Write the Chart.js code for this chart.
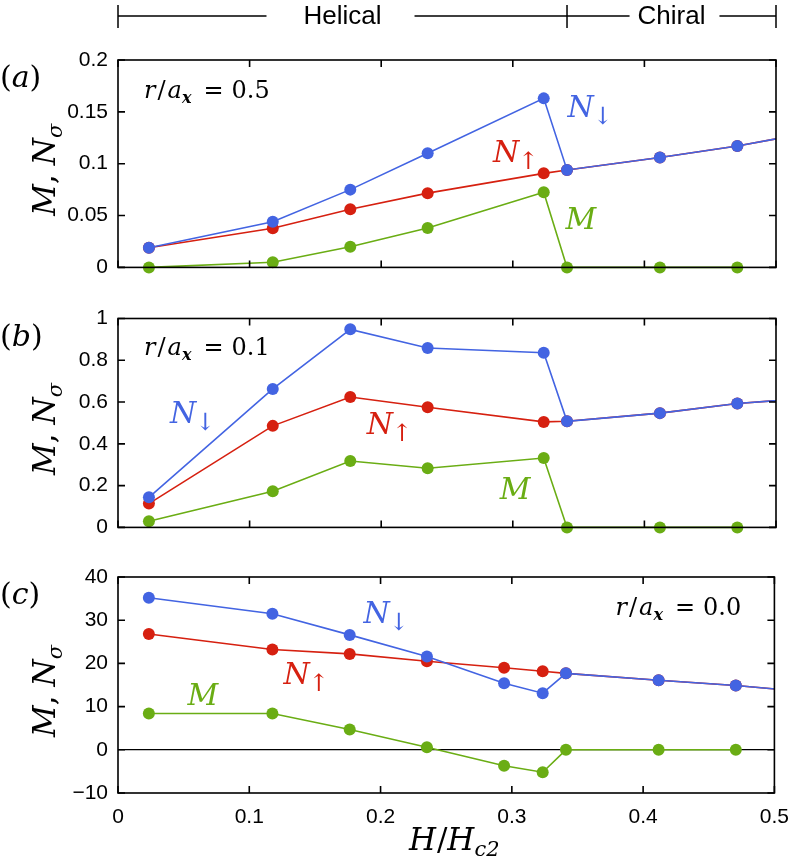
<!DOCTYPE html>
<html>
<head>
<meta charset="utf-8">
<script src="https://cdn.jsdelivr.net/npm/chart.js@4.4.1/dist/chart.umd.min.js"></script>
<style>
  body { margin: 0; background: #fff; }
  #wrap { position: relative; width: 793px; height: 858px; }
  canvas { position: absolute; left: 0; }
</style>
</head>
<body>
<div id="wrap">
  <canvas id="chartA" width="793" height="290" style="top:0px"></canvas>
  <canvas id="chartB" width="793" height="260" style="top:290px"></canvas>
  <canvas id="chartC" width="793" height="308" style="top:550px"></canvas>
</div>
<script>
// H/Hc2 positions of the computed points (last one lies past 0.5 and is clipped)
const xAB = [0.0235, 0.1176, 0.1765, 0.2353, 0.3235, 0.3412, 0.4118, 0.4706, 0.5294];
const xC  = [0.0235, 0.1176, 0.1765, 0.2353, 0.2941, 0.3235, 0.3412, 0.4118, 0.4706, 0.5294];

// (a) r/a_x = 0.5
const downA = [0.019, 0.044, 0.075, 0.110, 0.163, 0.094, 0.106, 0.117, 0.131];
const upA   = [0.019, 0.0377, 0.056, 0.0716, 0.0907, 0.094, 0.106, 0.117, 0.131];
const mA    = [0, 0.005, 0.020, 0.038, 0.0725, 0, 0, 0];

// (b) r/a_x = 0.1
const downB = [0.144, 0.663, 0.948, 0.859, 0.836, 0.508, 0.547, 0.593, 0.621];
const upB   = [0.114, 0.486, 0.624, 0.575, 0.505, 0.508, 0.547, 0.593, 0.621];
const mB    = [0.029, 0.173, 0.318, 0.283, 0.332, 0, 0, 0];

// (c) r/a_x = 0.0
const downC = [35.2, 31.5, 26.6, 21.6, 15.4, 13.1, 17.7, 16.1, 14.9, 13.3];
const upC   = [26.8, 23.2, 22.2, 20.5, 19.0, 18.2, 17.7, 16.1, 14.9, 13.3];
const mC    = [8.4, 8.4, 4.7, 0.6, -3.7, -5.2, 0, 0, 0];

const xTicks  = ['0', '0.1', '0.2', '0.3', '0.4', '0.5'];
const yTicksA = ['0', '0.05', '0.1', '0.15', '0.2'];
const yTicksB = ['0', '0.2', '0.4', '0.6', '0.8', '1'];
const yTicksC = ['\u221210', '0', '10', '20', '30', '40'];

const BLUE = '#4364e2';
const RED = '#d62010';
const GREEN = '#6aad14';

const SERIF = '"DejaVu Serif", "Liberation Serif", serif';
const SANS = '"Liberation Sans", Arial, sans-serif';
const it = s => `italic ${s}px ${SERIF}`;
const rm = s => `${s}px ${SERIF}`;

// draws a run of text pieces (used for sub/superscripts)
function rich(ctx, x, y, parts, color) {
  ctx.save();
  ctx.fillStyle = color;
  ctx.textBaseline = 'alphabetic';
  ctx.textAlign = 'left';
  for (const p of parts) {
    ctx.font = p.f;
    x += p.dx || 0;
    ctx.fillText(p.t, x, y + (p.dy || 0));
    x += ctx.measureText(p.t).width + (p.gap || 0);
  }
  ctx.restore();
}
function richWidth(ctx, parts) {
  let w = 0;
  ctx.save();
  for (const p of parts) { ctx.font = p.f; w += (p.dx || 0) + ctx.measureText(p.t).width + (p.gap || 0); }
  ctx.restore();
  return w;
}

const Ndown = [{ t: 'N', f: it(30) }, { t: '\u2193', f: rm(24), dx: -1, dy: 7 }];
const Nup = [{ t: 'N', f: it(30) }, { t: '\u2191', f: rm(24), dx: -1, dy: 7 }];
const Mlab = [{ t: 'M', f: it(30) }];
const rax = v => [
  { t: 'r', f: it(24) }, { t: '/', f: rm(24), dx: 2 }, { t: 'a', f: it(24), dx: 2 },
  { t: 'x', f: `bold italic 16px ${SERIF}`, dy: 5 },
  { t: '=', f: rm(24), dx: 12, gap: 8 }, { t: v, f: rm(24) }
];

function series(xs, ys, color) {
  return {
    data: ys.map((y, i) => ({ x: xs[i], y: y })),
    borderColor: color,
    backgroundColor: color,
    borderWidth: 1.6,
    pointRadius: 6,
    pointHoverRadius: 6,
    pointBorderWidth: 0,
    tension: 0,
    clip: { left: 0, top: 10, right: 0, bottom: 10 }
  };
}

function panel(id, p) {
  const deco = {
    id: 'deco' + id,
    afterDatasetsDraw(chart) {
      const { ctx, chartArea: a, scales: { x, y } } = chart;
      ctx.save();
      ctx.strokeStyle = '#000';
      ctx.lineWidth = 1.6;
      ctx.strokeRect(a.left, a.top, a.right - a.left, a.bottom - a.top);
      // inward tick marks on all four sides
      ctx.beginPath();
      y.ticks.forEach(t => {
        const py = y.getPixelForValue(t.value);
        ctx.moveTo(a.left, py); ctx.lineTo(a.left + 7, py);
        ctx.moveTo(a.right, py); ctx.lineTo(a.right - 7, py);
      });
      x.ticks.forEach(t => {
        const px = x.getPixelForValue(t.value);
        ctx.moveTo(px, a.bottom); ctx.lineTo(px, a.bottom - 7);
        ctx.moveTo(px, a.top); ctx.lineTo(px, a.top + 7);
      });
      ctx.stroke();
      ctx.restore();

      // series labels and r/a_x note
      p.notes.forEach(n => rich(ctx, x.getPixelForValue(n.x), y.getPixelForValue(n.y), n.parts, n.color));

      // panel letter
      rich(ctx, 0, a.top + 27, [{ t: '(', f: rm(30) }, { t: p.letter, f: it(30) }, { t: ')', f: rm(30) }], '#000');

      // y axis title  M, N_sigma
      const yt = [{ t: 'M', f: it(31) }, { t: ',', f: rm(31) }, { t: 'N', f: it(31), dx: 9 }, { t: '\u03c3', f: it(21), dy: 7 }];
      const w = richWidth(ctx, yt);
      ctx.save();
      ctx.translate(55, (a.top + a.bottom) / 2 + 6);
      ctx.rotate(-Math.PI / 2);
      rich(ctx, -w / 2, 0, yt, '#000');
      ctx.restore();

      if (p.extra) p.extra(chart);
    }
  };

  return new Chart(document.getElementById(id), {
    type: 'line',
    data: {
      datasets: [
        series(p.xs, p.down, BLUE),
        series(p.xs, p.up, RED),
        series(p.xs, p.m, GREEN)
      ]
    },
    options: {
      responsive: false,
      animation: false,
      events: [],
      layout: { padding: { left: 0, right: 17, top: p.padTop, bottom: p.padBottom } },
      plugins: { legend: { display: false }, tooltip: { enabled: false } },
      scales: {
        x: {
          type: 'linear',
          min: 0,
          max: 0.5,
          ticks: {
            stepSize: 0.1,
            display: p.showX,
            maxRotation: 0,
            padding: 4,
            color: '#000',
            font: { family: SANS, size: 21 },
            callback: (v, i) => xTicks[i]
          },
          grid: { display: false },
          border: { display: false },
          afterFit: s => { s.height = p.xHeight; }
        },
        y: {
          min: p.min,
          max: p.max,
          ticks: {
            stepSize: p.step,
            padding: 10,
            color: '#000',
            font: { family: SANS, size: 21 },
            callback: (v, i) => p.yLabels[i]
          },
          grid: {
            drawTicks: false,
            lineWidth: 1.2,
            color: c => (p.zeroLine && c.tick && c.tick.value === 0) ? '#000' : 'rgba(0,0,0,0)'
          },
          border: { display: false },
          afterFit: s => { s.width = 118; }
        }
      }
    },
    plugins: [deco]
  });
}

// phase bar above panel (a)
function phaseBar(chart) {
  const { ctx, scales: { x } } = chart;
  const x0 = x.getPixelForValue(0), xb = x.getPixelForValue(0.3412), x1 = x.getPixelForValue(0.5);
  const yy = 16;
  ctx.save();
  ctx.strokeStyle = '#000';
  ctx.lineWidth = 1.5;
  ctx.font = `26px ${SANS}`;
  ctx.fillStyle = '#000';
  ctx.textAlign = 'center';
  ctx.textBaseline = 'middle';
  const seg = (a, b, txt, padL, padR) => {
    const c = (a + b) / 2, w = ctx.measureText(txt).width;
    ctx.beginPath();
    ctx.moveTo(a, yy); ctx.lineTo(c - w / 2 - padL, yy);
    ctx.moveTo(c + w / 2 + padR, yy); ctx.lineTo(b, yy);
    ctx.stroke();
    ctx.fillText(txt, c, yy + 1);
  };
  seg(x0, xb, 'Helical', 37, 33);
  seg(xb, x1, 'Chiral', 8, 14);
  ctx.beginPath();
  [x0, xb, x1].forEach(px => { ctx.moveTo(px, 5); ctx.lineTo(px, 28); });
  ctx.stroke();
  ctx.restore();
}

// x axis title under panel (c)
function xTitle(chart) {
  const { ctx, chartArea: a } = chart;
  const parts = [
    { t: 'H', f: it(31) }, { t: '/', f: rm(31), dx: 1 }, { t: 'H', f: it(31) },
    { t: 'c2', f: it(21), dy: 6 }
  ];
  const w = richWidth(ctx, parts);
  rich(ctx, (a.left + a.right) / 2 - w / 2 + 8, 300, parts, '#000');
}

panel('chartA', {
  xs: xAB, down: downA, up: upA, m: mA,
  min: 0, max: 0.2, step: 0.05, yLabels: yTicksA,
  padTop: 60, padBottom: 14, xHeight: 0, showX: false, letter: 'a',
  notes: [
    { x: 0.0198, y: 0.163, parts: rax('0.5'), color: '#000' },
    { x: 0.3415, y: 0.1448, parts: Ndown, color: BLUE },
    { x: 0.285, y: 0.102, parts: Nup, color: RED },
    { x: 0.340, y: 0.0373, parts: Mlab, color: GREEN }
  ],
  extra: phaseBar
});

panel('chartB', {
  xs: xAB, down: downB, up: upB, m: mB,
  min: 0, max: 1, step: 0.2, yLabels: yTicksB,
  padTop: 28.5, padBottom: 15, xHeight: 0, showX: false, letter: 'b',
  notes: [
    { x: 0.0198, y: 0.825, parts: rax('0.1'), color: '#000' },
    { x: 0.0396, y: 0.50, parts: Ndown, color: BLUE },
    { x: 0.189, y: 0.446, parts: Nup, color: RED },
    { x: 0.290, y: 0.137, parts: Mlab, color: GREEN }
  ]
});

panel('chartC', {
  xs: xC, down: downC, up: upC, m: mC,
  min: -10, max: 40, step: 10, yLabels: yTicksC, zeroLine: true,
  padTop: 27, padBottom: 0, xHeight: 65, showX: true, letter: 'c',
  notes: [
    { x: 0.379, y: 31.1, parts: rax('0.0'), color: '#000' },
    { x: 0.187, y: 29.4, parts: Ndown, color: BLUE },
    { x: 0.126, y: 15.3, parts: Nup, color: RED },
    { x: 0.053, y: 10.4, parts: Mlab, color: GREEN }
  ],
  extra: xTitle
});
</script>
</body>
</html>
